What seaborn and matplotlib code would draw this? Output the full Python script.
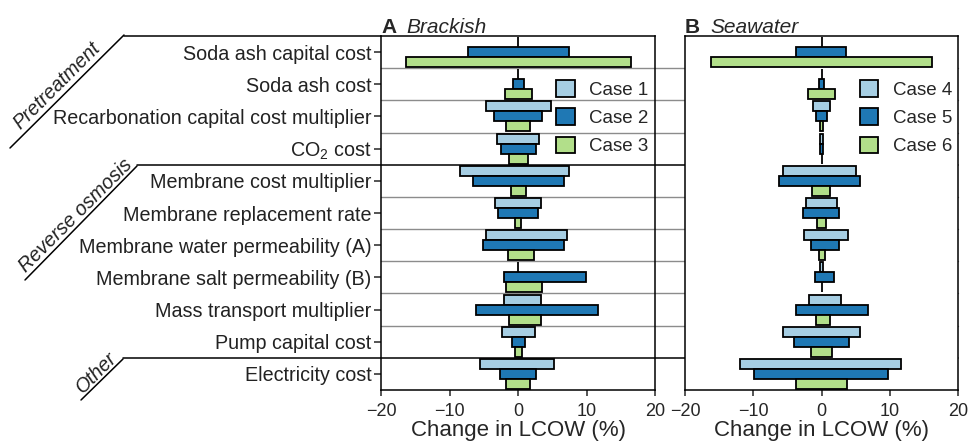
import matplotlib
matplotlib.use("Agg")
import matplotlib.pyplot as plt
import matplotlib.transforms as mtransforms
from matplotlib.lines import Line2D
from matplotlib.patches import Patch
import seaborn as sns

params = ["Soda ash capital cost", "Soda ash cost", "Recarbonation capital cost multiplier",
          "CO$_2$ cost", "Membrane cost multiplier", "Membrane replacement rate",
          "Membrane water permeability (A)", "Membrane salt permeability (B)",
          "Mass transport multiplier", "Pump capital cost", "Electricity cost"]

# Brackish (panel A) : low / high change in LCOW (%)
case1_lo = [0, 0, -4.7, -3.0, -8.4, -3.4, -4.7, 0, -2.0, -2.4, -5.5]
case1_hi = [0, 0, 4.8, 3.0, 7.5, 3.4, 7.1, 0, 3.4, 2.5, 5.3]
case2_lo = [-7.3, -0.8, -3.5, -2.5, -6.6, -2.9, -5.1, -2.1, -6.1, -0.9, -2.6]
case2_hi = [7.4, 0.9, 3.5, 2.6, 6.7, 2.9, 6.7, 9.9, 11.7, 1.0, 2.6]
case3_lo = [-16.4, -1.9, -1.7, -1.3, -1.0, -0.4, -1.5, -1.7, -1.3, -0.5, -1.7]
case3_hi = [16.5, 2.0, 1.8, 1.4, 1.1, 0.5, 2.4, 3.5, 3.4, 0.6, 1.8]

# Seawater (panel B)
case4_lo = [0, 0, -1.2, -0.2, -5.7, -2.3, -2.5, -0.2, -1.8, -5.7, -11.9]
case4_hi = [0, 0, 1.2, 0.2, 5.0, 2.2, 3.9, 0.2, 2.9, 5.7, 11.6]
case5_lo = [-3.7, -0.4, -0.8, -0.2, -6.3, -2.7, -1.6, -1.0, -3.8, -4.0, -9.9]
case5_hi = [3.6, 0.4, 0.8, 0.2, 5.6, 2.5, 2.5, 1.9, 6.8, 4.0, 9.7]
case6_lo = [-16.2, -2.0, -0.2, 0, -1.4, -0.6, -0.3, 0, -0.8, -1.5, -3.8]
case6_hi = [16.2, 2.0, 0.2, 0, 1.3, 0.6, 0.5, 0, 1.2, 1.5, 3.7]

left_labels = ["Case 1", "Case 2", "Case 3"]
right_labels = ["Case 4", "Case 5", "Case 6"]
groups = ["Pretreatment", "Reverse osmosis", "Other"]
xticks = [-20, -10, 0, 10, 20]

sns.set_style("ticks")
plt.rcParams["font.family"] = ["Liberation Sans", "DejaVu Sans"]
plt.rcParams["mathtext.fontset"] = "custom"
plt.rcParams["mathtext.rm"] = "Liberation Sans"
plt.rcParams["axes.linewidth"] = 1.1

pal = sns.color_palette("Paired")
colors = [pal[0], pal[1], pal[2]]

W, H = 971, 444
fig = plt.figure(figsize=(W / 100, H / 100), dpi=100)

def fx(px):
    return px / W

def fy(py):
    return 1 - py / H

axL = fig.add_axes([fx(381), fy(390), fx(655) - fx(381), fy(36) - fy(390)])
axR = fig.add_axes([fx(685), fy(390), fx(958) - fx(685), fy(36) - fy(390)])

ypos = list(range(len(params)))
bh = 0.31
offsets = [-bh, 0, bh]

def draw(ax, los, his, labels):
    for k, (lo, hi) in enumerate(zip(los, his)):
        ax.barh([y + offsets[k] for y in ypos], [h - l for l, h in zip(lo, hi)],
                left=lo, height=bh, color=colors[k], edgecolor="black",
                linewidth=1.3, label=labels[k], zorder=3)
    ax.set_xlim(-20, 20)
    ax.set_ylim(len(params) - 0.5, -0.5)
    ax.set_xticks(xticks)
    ax.set_xticklabels([f"{t}".replace("-", "\u2212") for t in xticks], fontsize=13)
    ax.set_xlabel("Change in LCOW (%)", fontsize=16, labelpad=0)
    ax.tick_params(axis="x", length=4, width=1.1, pad=5.5)
    for s in ax.spines.values():
        s.set_color("black")
        s.set_linewidth(1.1)
    handles = [Patch(facecolor=colors[k], edgecolor="black", linewidth=1.3, label=labels[k])
               for k in range(3)]
    ax.legend(handles=handles, loc="upper left", bbox_to_anchor=(0.64, 0.875),
              frameon=False, fontsize=13.5, handlelength=1.0, handleheight=1.0,
              handletextpad=0.75, labelspacing=0.5, borderpad=0, borderaxespad=0)

draw(axL, [case1_lo, case2_lo, case3_lo], [case1_hi, case2_hi, case3_hi], left_labels)
draw(axR, [case4_lo, case5_lo, case6_lo], [case4_hi, case5_hi, case6_hi], right_labels)

axL.set_yticks(ypos)
axL.set_yticklabels(params, fontsize=14.2, color="#222222")
axL.tick_params(axis="y", length=5, width=1.1, pad=2)
axR.set_yticks([])

# separator lines spanning both panels
trans = mtransforms.blended_transform_factory(fig.transFigure, axL.transData)
for b in [0.5, 1.5, 2.5, 4.5, 5.5, 6.5, 7.5, 8.5]:
    axL.add_line(Line2D([fx(381), fx(958)], [b, b], transform=trans, color="#8c8c8c",
                        linewidth=1.0, clip_on=False, zorder=1))
for b, x0 in [(3.5, 137), (9.5, 123)]:
    axL.add_line(Line2D([fx(x0), fx(958)], [b, b], transform=trans, color="black",
                        linewidth=1.1, clip_on=False, zorder=4))
axL.add_line(Line2D([fx(124), fx(381)], [-0.5, -0.5], transform=trans, color="black",
                    linewidth=1.1, clip_on=False, zorder=4))

# diagonal group markers
for (x0, y0, x1, y1) in [(124, 35, 10, 148), (137, 166, 25, 280), (123, 359, 81, 400)]:
    fig.add_artist(Line2D([fx(x0), fx(x1)], [fy(y0), fy(y1)], transform=fig.transFigure,
                          color="black", linewidth=1.1))
for name, (cx, cy) in zip(groups, [(57, 86), (76, 216), (97, 373)]):
    fig.text(fx(cx), fy(cy), name, rotation=45, rotation_mode="anchor", ha="center",
             va="center", fontsize=14.2, fontstyle="italic", color="#222222")

# panel titles
axL.text(0.0, 1.008, "A", transform=axL.transAxes, fontsize=15, fontweight="bold",
         ha="left", va="baseline")
axL.text(0.091, 1.008, "Brackish", transform=axL.transAxes, fontsize=15,
         fontstyle="italic", ha="left", va="baseline")
axR.text(0.0, 1.008, "B", transform=axR.transAxes, fontsize=15, fontweight="bold",
         ha="left", va="baseline")
axR.text(0.0916, 1.008, "Seawater", transform=axR.transAxes, fontsize=15,
         fontstyle="italic", ha="left", va="baseline")

fig.savefig("out.png", dpi=100)
